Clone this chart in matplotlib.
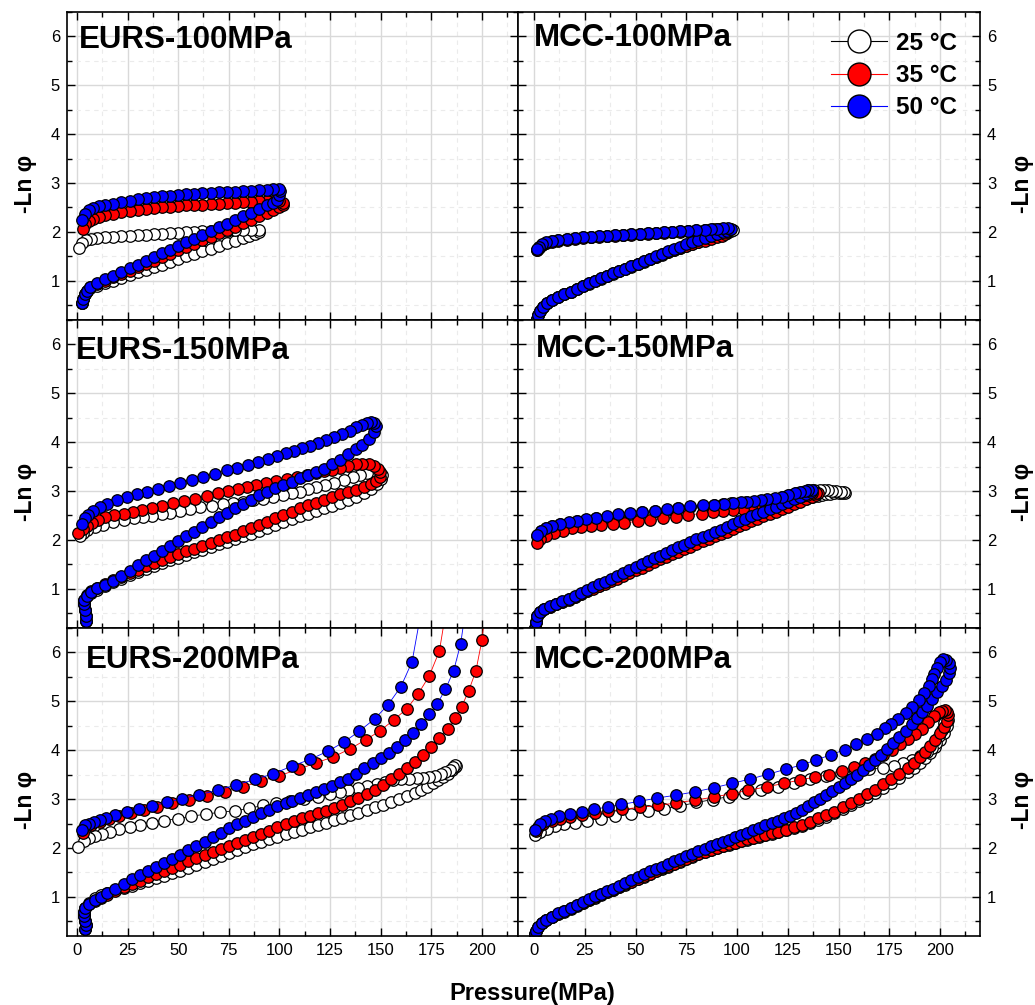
import numpy as np
import matplotlib.pyplot as plt
from matplotlib.ticker import MultipleLocator
from matplotlib.lines import Line2D

plt.rcParams['font.family'] = ['Liberation Sans', 'DejaVu Sans']

temps = ['25 °C', '35 °C', '50 °C']
face_colors = ['white', '#ff0000', '#0000ff']
line_colors = ['black', '#ff0000', '#0000ff']

# (pressure MPa, -ln phi), loading then unloading
eurs100_25 = [(2.5, 0.55), (3, 0.62), (4, 0.72), (5, 0.79), (6.5, 0.85), (10, 0.90), (14, 0.95), (18, 1.00),
              (22, 1.06), (26, 1.11), (30, 1.17), (34, 1.22), (38, 1.28), (42, 1.33), (46, 1.39), (50, 1.44),
              (54, 1.50), (58, 1.55), (62, 1.60), (66, 1.66), (70, 1.71), (74, 1.77), (78, 1.82), (82, 1.88),
              (85, 1.92), (88, 1.96), (90, 2.00),
              (90, 2.04), (86, 2.04), (82, 2.03), (78, 2.03), (74, 2.02), (70, 2.02), (66, 2.01), (62, 2.01),
              (58, 2.00), (54, 1.99), (50, 1.98), (46, 1.97), (42, 1.96), (38, 1.95), (34, 1.94), (30, 1.93),
              (26, 1.92), (22, 1.91), (18, 1.90), (14, 1.89), (10, 1.88), (7, 1.86), (4.5, 1.83), (2.5, 1.77),
              (1, 1.67)]
eurs100_35 = [(2.5, 0.55), (3, 0.62), (4, 0.72), (5, 0.80), (6.5, 0.87), (10, 0.93), (14, 1.00), (18, 1.07),
              (22, 1.14), (26, 1.21), (30, 1.28), (34, 1.34), (38, 1.41), (42, 1.48), (46, 1.55), (50, 1.62),
              (54, 1.69), (58, 1.76), (62, 1.83), (66, 1.90), (70, 1.97), (74, 2.04), (78, 2.11), (82, 2.18),
              (86, 2.25), (90, 2.32), (94, 2.39), (97, 2.45), (100, 2.50), (102, 2.55),
              (102, 2.60), (100, 2.63), (97, 2.64), (94, 2.64), (90, 2.63), (86, 2.62), (82, 2.61), (78, 2.60),
              (74, 2.59), (70, 2.58), (66, 2.57), (62, 2.56), (58, 2.55), (54, 2.54), (50, 2.53), (46, 2.51),
              (42, 2.50), (38, 2.48), (34, 2.46), (30, 2.44), (26, 2.42), (22, 2.40), (18, 2.37), (14, 2.34),
              (11, 2.31), (8, 2.27), (6, 2.23), (4, 2.16), (3, 2.05)]
eurs100_50 = [(2.5, 0.55), (3, 0.62), (4, 0.72), (5, 0.80), (6.5, 0.88), (10, 0.95), (14, 1.03), (18, 1.10),
              (22, 1.18), (26, 1.26), (30, 1.33), (34, 1.41), (38, 1.48), (42, 1.56), (46, 1.63), (50, 1.71),
              (54, 1.79), (58, 1.86), (62, 1.94), (66, 2.01), (70, 2.09), (74, 2.17), (78, 2.24), (82, 2.32),
              (86, 2.39), (90, 2.47), (94, 2.54), (97, 2.60), (99, 2.66), (100, 2.75), (100.5, 2.84),
              (100, 2.87), (97, 2.87), (94, 2.86), (90, 2.85), (86, 2.84), (82, 2.83), (78, 2.82), (74, 2.82),
              (70, 2.81), (66, 2.80), (62, 2.79), (58, 2.78), (54, 2.77), (50, 2.76), (46, 2.74), (42, 2.73),
              (38, 2.71), (34, 2.69), (30, 2.67), (26, 2.64), (22, 2.61), (18, 2.58), (14, 2.55), (11, 2.52),
              (8, 2.48), (6, 2.44), (4, 2.36), (2.5, 2.24)]

eurs150_25 = [(4.5, 0.35), (4.5, 0.45), (4, 0.56), (3.5, 0.68), (3.5, 0.76), (5, 0.85), (7, 0.92), (10, 0.98),
              (14, 1.06), (18, 1.14), (22, 1.21), (26, 1.29), (30, 1.35), (34, 1.41), (38, 1.47), (42, 1.53),
              (46, 1.58), (50, 1.64), (54, 1.69), (58, 1.75), (62, 1.80), (66, 1.85), (70, 1.91), (74, 1.96),
              (78, 2.02), (82, 2.07), (86, 2.13), (90, 2.19), (94, 2.24), (98, 2.30), (102, 2.36), (106, 2.42),
              (110, 2.48), (114, 2.54), (118, 2.59), (122, 2.65), (126, 2.70), (130, 2.76), (134, 2.81),
              (138, 2.87), (142, 2.95), (145, 3.04), (148, 3.14), (150, 3.24), (150.5, 3.32),
              (149, 3.37), (146, 3.38), (143, 3.36), (140, 3.33), (136.5, 3.29), (132, 3.23), (127, 3.17),
              (122.5, 3.13), (118, 3.09), (114, 3.04), (110, 2.99), (106, 2.96), (102, 2.92), (97, 2.88),
              (92, 2.84), (87, 2.81), (82, 2.78), (77, 2.76), (72, 2.74), (66.5, 2.70), (61, 2.67), (56, 2.63),
              (51, 2.60), (46, 2.56), (42, 2.52), (37, 2.49), (32.5, 2.47), (28, 2.44), (23, 2.41), (18, 2.36),
              (13, 2.31), (9, 2.27), (5, 2.20), (3, 2.14), (1.5, 2.07)]
eurs150_35 = [(4.5, 0.35), (4.5, 0.45), (4, 0.56), (3.5, 0.68), (3.5, 0.78), (5, 0.88), (7, 0.96), (10, 1.02),
              (14, 1.10), (18, 1.18), (22, 1.25), (26, 1.32), (30, 1.39), (34, 1.46), (38, 1.52), (42, 1.59),
              (46, 1.65), (50, 1.71), (54, 1.77), (58, 1.82), (62, 1.88), (66, 1.94), (70, 2.00), (74, 2.05),
              (78, 2.11), (82, 2.18), (86, 2.24), (90, 2.31), (94, 2.37), (98, 2.44), (102, 2.51), (106, 2.58),
              (110, 2.65), (114, 2.71), (118, 2.76), (122, 2.82), (126, 2.87), (130, 2.93), (134, 2.98),
              (138, 3.03), (142, 3.09), (145, 3.14), (147.5, 3.20), (149.5, 3.29), (149.5, 3.38),
              (148.5, 3.46), (146.5, 3.52), (144, 3.56), (141, 3.56), (138, 3.55), (134, 3.52), (130, 3.48),
              (126, 3.44), (122, 3.40), (118, 3.36), (113.5, 3.32), (108.5, 3.28), (103.5, 3.25), (98.5, 3.21),
              (93.5, 3.17), (88.5, 3.13), (84, 3.09), (79.5, 3.05), (74.5, 3.00), (69.5, 2.95), (64, 2.89),
              (58.5, 2.84), (53, 2.79), (47.5, 2.75), (42, 2.70), (37, 2.66), (32, 2.62), (27.5, 2.58),
              (23, 2.54), (18.5, 2.50), (14, 2.46), (10.5, 2.41), (7.5, 2.35), (5, 2.28), (3, 2.22), (0.7, 2.14)]
eurs150_50 = [(4.5, 0.35), (4.5, 0.45), (4, 0.56), (3.5, 0.68), (3.5, 0.78), (5, 0.86), (7, 0.94), (10, 1.01),
              (14, 1.07), (18, 1.16), (22, 1.27), (26, 1.37), (30, 1.48), (34, 1.58), (38, 1.67), (42, 1.77),
              (46, 1.87), (50, 1.98), (54, 2.08), (58, 2.17), (62, 2.27), (66, 2.37), (70, 2.46), (74, 2.55),
              (78, 2.65), (82, 2.74), (86, 2.82), (90, 2.91), (94, 2.99), (98, 3.06), (102, 3.13), (106, 3.19),
              (110, 3.26), (114, 3.32), (118, 3.39), (122, 3.46), (126, 3.55), (130, 3.64), (134, 3.75),
              (138, 3.86), (141, 3.95), (144, 4.07), (146.5, 4.20), (147.5, 4.32), (146.5, 4.40),
              (145, 4.42), (143, 4.39), (141, 4.36), (138, 4.30), (135, 4.23), (131, 4.17), (127, 4.11),
              (123, 4.05), (119, 3.99), (115, 3.93), (111, 3.88), (107, 3.82), (103, 3.77), (99, 3.72),
              (94.5, 3.66), (89.5, 3.60), (84.5, 3.54), (79, 3.48), (74, 3.42), (68, 3.35), (62.5, 3.29),
              (57, 3.23), (51, 3.16), (45.5, 3.10), (40, 3.04), (34.5, 2.98), (29.5, 2.93), (24.5, 2.87),
              (20, 2.81), (15, 2.74), (11.5, 2.67), (8, 2.59), (5.5, 2.51), (4, 2.44), (2.3, 2.32)]

eurs200_25 = [(4, 0.35), (4.5, 0.42), (4, 0.50), (3.5, 0.60), (3.5, 0.70), (4, 0.78), (6, 0.88), (9, 0.97),
              (12, 1.03), (15, 1.08), (19, 1.13), (23, 1.18), (27, 1.23), (31, 1.28), (35, 1.33), (39, 1.38),
              (43, 1.43), (47, 1.48), (51, 1.53), (55, 1.59), (59, 1.65), (63, 1.71), (67, 1.77), (71, 1.83),
              (75, 1.90), (79, 1.96), (83, 2.02), (87, 2.08), (91, 2.13), (95, 2.18), (99, 2.23), (103, 2.28),
              (107, 2.33), (111, 2.37), (115, 2.42), (119, 2.47), (123, 2.52), (127, 2.57), (131, 2.62),
              (135, 2.67), (139, 2.72), (143, 2.77), (147, 2.83), (151, 2.88), (155, 2.94), (159, 3.00),
              (163, 3.06), (167, 3.13), (170, 3.19), (173, 3.25), (176, 3.32), (178.5, 3.39), (181, 3.46),
              (183, 3.52), (185, 3.59), (186.5, 3.65), (187, 3.68),
              (186.5, 3.69), (185.5, 3.65), (184, 3.60), (182, 3.55), (180, 3.51), (177, 3.48), (174, 3.46),
              (171, 3.44), (168, 3.43), (164, 3.42), (160, 3.40), (156, 3.39), (152, 3.35), (148, 3.31),
              (143, 3.26), (139, 3.22), (134, 3.18), (130, 3.15), (125, 3.10), (119, 3.05), (112, 3.00),
              (105, 2.96), (98.5, 2.91), (92, 2.87), (85, 2.81), (78, 2.76), (70.5, 2.73), (63.5, 2.69),
              (56.5, 2.65), (50, 2.60), (43, 2.56), (37, 2.51), (31, 2.46), (26, 2.42), (21, 2.38), (16.5, 2.33),
              (12.5, 2.28), (9, 2.24), (6, 2.20), (3.5, 2.14), (0.5, 2.02)]
eurs200_35 = [(4, 0.35), (4.5, 0.42), (4, 0.50), (3.5, 0.60), (3.5, 0.70), (4, 0.78), (6, 0.85), (9, 0.92),
              (12, 0.98), (15, 1.04), (19, 1.12), (23, 1.20), (27, 1.26), (31, 1.33), (35, 1.40), (39, 1.46),
              (43, 1.53), (47, 1.60), (51, 1.66), (55, 1.73), (59, 1.79), (63, 1.86), (67, 1.92), (71, 1.98),
              (75, 2.05), (79, 2.11), (83, 2.17), (87, 2.23), (91, 2.29), (95, 2.35), (99, 2.42), (103, 2.49),
              (107, 2.55), (111, 2.61), (115, 2.66), (119, 2.71), (123, 2.76), (127, 2.82), (131, 2.88),
              (135, 2.95), (139, 3.02), (143, 3.10), (147, 3.18), (151, 3.29), (155, 3.40), (159, 3.51),
              (163, 3.64), (167, 3.75), (171, 3.90), (175, 4.06), (179, 4.24), (183, 4.43), (186.5, 4.65),
              (190, 4.89), (193.5, 5.22), (197, 5.62), (200, 6.25), (202, 7.00),
              (184, 7.30), (179, 6.03), (174, 5.52), (168.5, 5.15), (163, 4.85), (156.5, 4.62), (149.5, 4.39),
              (142.5, 4.21), (135, 4.03), (126.5, 3.86), (118, 3.74), (109.5, 3.61), (100, 3.48), (91, 3.37),
              (82, 3.25), (73, 3.15), (64, 3.07), (55.5, 2.99), (47, 2.91), (39.5, 2.84), (33, 2.77),
              (26.5, 2.72), (21, 2.66), (16, 2.60), (11.5, 2.53), (7, 2.47), (4, 2.40), (2.8, 2.30)]
eurs200_50 = [(4, 0.35), (4.5, 0.42), (4, 0.50), (3.5, 0.60), (3.5, 0.70), (4, 0.78), (6, 0.86), (9, 0.93),
              (12, 1.00), (15, 1.07), (19, 1.17), (23, 1.26), (27, 1.36), (31, 1.45), (35, 1.53), (39, 1.62),
              (43, 1.70), (47, 1.78), (51, 1.86), (55, 1.95), (59, 2.04), (63, 2.13), (67, 2.22), (71, 2.31),
              (75, 2.40), (79, 2.48), (83, 2.56), (87, 2.64), (91, 2.71), (95, 2.78), (99, 2.85), (103, 2.92),
              (106, 2.96), (110, 3.02), (114, 3.08), (118, 3.14), (122, 3.20), (126, 3.27), (130, 3.34),
              (134, 3.42), (138, 3.52), (142, 3.63), (146, 3.74), (150, 3.84), (154, 3.95), (158, 4.07),
              (162, 4.21), (166, 4.36), (170, 4.53), (174, 4.73), (178, 4.95), (182, 5.25), (186, 5.62),
              (189.5, 6.18), (192, 6.90),
              (172, 7.30), (165.5, 5.81), (160, 5.30), (153.5, 4.92), (147, 4.64), (139.5, 4.39), (132, 4.17),
              (124, 3.98), (115, 3.81), (106, 3.67), (97, 3.52), (88, 3.40), (78.5, 3.29), (69.5, 3.18),
              (60.5, 3.09), (52, 3.01), (44.5, 2.93), (37, 2.86), (30.5, 2.79), (24.5, 2.74), (19, 2.68),
              (14.5, 2.62), (11.5, 2.57), (8.5, 2.53), (6, 2.50), (4, 2.46), (2.5, 2.36)]

mcc100_25 = [(1.5, 0.22), (2, 0.30), (3, 0.38), (4.5, 0.46), (6.5, 0.54), (9, 0.60), (12, 0.66), (15, 0.72),
             (18, 0.78), (21, 0.84), (24, 0.89), (27, 0.94), (30, 0.99), (33, 1.04), (36, 1.09), (39, 1.14),
             (42, 1.19), (45, 1.24), (48, 1.29), (51, 1.34), (54, 1.39), (57, 1.44), (60, 1.49), (63, 1.53),
             (66, 1.58), (69, 1.62), (72, 1.67), (75, 1.71), (78, 1.75), (81, 1.79), (84, 1.83), (87, 1.87),
             (90, 1.91), (93, 1.95), (95, 1.98), (97, 2.01), (98, 2.03),
             (96.5, 2.05), (94, 2.06), (91, 2.06), (88, 2.05), (84, 2.04), (80, 2.03), (76, 2.02), (72, 2.01),
             (68, 2.00), (64, 1.99), (60, 1.98), (56, 1.97), (52, 1.96), (48, 1.95), (44, 1.94), (40, 1.93),
             (36, 1.92), (32, 1.91), (28, 1.90), (24, 1.89), (20, 1.87), (16, 1.85), (12, 1.83), (9, 1.81),
             (6, 1.78), (4, 1.74), (2.5, 1.69), (1.5, 1.63)]
mcc100_35 = [(1.5, 0.22), (2, 0.30), (3, 0.38), (4.5, 0.46), (6.5, 0.54), (9, 0.60), (12, 0.66), (15, 0.72),
             (18, 0.78), (21, 0.84), (24, 0.89), (27, 0.95), (30, 1.00), (33, 1.05), (36, 1.10), (39, 1.15),
             (42, 1.20), (45, 1.25), (48, 1.30), (51, 1.35), (54, 1.40), (57, 1.45), (60, 1.49), (63, 1.54),
             (66, 1.58), (69, 1.63), (72, 1.67), (75, 1.71), (78, 1.75), (81, 1.79), (84, 1.82), (87, 1.86),
             (90, 1.89), (92.5, 1.92), (94, 1.95), (95, 1.99),
             (95, 2.03), (93, 2.05), (90, 2.05), (87, 2.04), (84, 2.03), (80, 2.02), (76, 2.01), (72, 2.00),
             (68, 1.99), (64, 1.98), (60, 1.97), (56, 1.96), (52, 1.95), (48, 1.94), (44, 1.93), (40, 1.92),
             (36, 1.91), (32, 1.90), (28, 1.89), (24, 1.88), (20, 1.86), (16, 1.84), (12, 1.82), (9, 1.80),
             (6, 1.77), (4, 1.73), (2.5, 1.68), (1.5, 1.62)]
mcc100_50 = [(1.5, 0.22), (2, 0.30), (3, 0.38), (4.5, 0.46), (6.5, 0.54), (9, 0.60), (12, 0.66), (15, 0.72),
             (18, 0.78), (21, 0.84), (24, 0.89), (27, 0.95), (30, 1.00), (33, 1.05), (36, 1.10), (39, 1.15),
             (42, 1.20), (45, 1.25), (48, 1.30), (51, 1.35), (54, 1.40), (57, 1.45), (60, 1.50), (63, 1.55),
             (66, 1.60), (69, 1.65), (72, 1.70), (75, 1.75), (78, 1.80), (81, 1.84), (84, 1.88), (87, 1.92),
             (90, 1.96), (93, 1.99), (95, 2.02), (96.5, 2.05),
             (97, 2.06), (95.5, 2.07), (93, 2.07), (90, 2.06), (87, 2.05), (84, 2.04), (80, 2.03), (76, 2.02),
             (72, 2.01), (68, 2.00), (64, 1.99), (60, 1.98), (56, 1.97), (52, 1.96), (48, 1.95), (44, 1.94),
             (40, 1.93), (36, 1.92), (32, 1.91), (28, 1.90), (24, 1.89), (20, 1.88), (16, 1.86), (12, 1.84),
             (9, 1.82), (6, 1.79), (4, 1.75), (2.5, 1.70), (1.5, 1.64)]

mcc150_25 = [(0.5, 0.20), (1, 0.32), (1.5, 0.44), (3, 0.52), (5, 0.58), (8, 0.63), (11, 0.68), (14, 0.73),
             (17, 0.79), (20, 0.84), (23, 0.90), (26, 0.95), (29, 1.01), (32, 1.06), (35, 1.12), (38, 1.17),
             (41, 1.23), (44, 1.29), (47, 1.34), (50, 1.40), (53, 1.46), (56, 1.51), (59, 1.57), (62, 1.63),
             (65, 1.68), (68, 1.74), (71, 1.79), (74, 1.84), (77, 1.90), (80, 1.95), (83, 2.00), (86, 2.05),
             (89, 2.10), (92, 2.15), (95, 2.20), (98, 2.26), (101, 2.31), (104, 2.36), (107, 2.41), (110, 2.46),
             (113, 2.51), (116, 2.56), (119, 2.61), (122, 2.66), (125, 2.71), (128, 2.76), (131, 2.80),
             (134, 2.84), (137, 2.87), (140, 2.90), (142, 2.92), (144, 2.93), (146, 2.94), (148, 2.95),
             (150, 2.95), (151.5, 2.95), (153, 2.95),
             (152.5, 2.98), (151, 2.99), (149, 3.00), (147, 3.01), (145, 3.02), (143, 3.02), (141, 3.03),
             (138, 3.03), (135, 3.02),
             (132, 2.99), (129, 2.95), (125.5, 2.91), (122, 2.87), (118.5, 2.84), (115, 2.82), (111.5, 2.80),
             (108, 2.78), (104.5, 2.77), (101, 2.76), (97, 2.75), (93, 2.73), (88.5, 2.71), (83, 2.70),
             (77, 2.68), (71, 2.65), (65.5, 2.62), (59.5, 2.59), (53, 2.57), (47.5, 2.54), (41.5, 2.51),
             (36, 2.47), (30.5, 2.44), (25.5, 2.41), (21, 2.38), (17, 2.35), (13, 2.32), (9, 2.28), (6, 2.24),
             (3.5, 2.18), (1.5, 2.08)]
mcc150_35 = [(0.5, 0.20), (1, 0.32), (1.5, 0.44), (3, 0.52), (5, 0.58), (8, 0.63), (11, 0.68), (14, 0.73),
             (17, 0.78), (20, 0.84), (23, 0.89), (26, 0.95), (29, 1.00), (32, 1.05), (35, 1.10), (38, 1.16),
             (41, 1.21), (44, 1.27), (47, 1.32), (50, 1.38), (53, 1.43), (56, 1.49), (59, 1.54), (62, 1.60),
             (65, 1.65), (68, 1.71), (71, 1.76), (74, 1.81), (77, 1.86), (80, 1.92), (83, 1.97), (86, 2.02),
             (89, 2.07), (92, 2.12), (95, 2.17), (98, 2.22), (101, 2.28), (104, 2.33), (107, 2.38), (110, 2.43),
             (113, 2.48), (116, 2.53), (119, 2.58), (122, 2.63), (125, 2.68), (128, 2.73), (131, 2.78),
             (134, 2.83), (137, 2.88), (139, 2.92), (140, 2.95),
             (139, 2.96), (137, 2.95), (134.5, 2.92), (132, 2.89), (129, 2.85), (125.5, 2.81), (122, 2.78),
             (118.5, 2.75), (115, 2.72), (111, 2.69), (107, 2.67), (103, 2.64), (98, 2.62), (93, 2.59),
             (88, 2.57), (82.5, 2.54), (76, 2.51), (70, 2.47), (63.5, 2.44), (57, 2.41), (51, 2.38),
             (44.5, 2.35), (39, 2.33), (33, 2.31), (28, 2.29), (23, 2.27), (18.5, 2.24), (14.5, 2.19),
             (10, 2.14), (6, 2.08), (3, 2.01), (1.3, 1.93)]
mcc150_50 = [(0.5, 0.20), (1, 0.32), (1.5, 0.44), (3, 0.52), (5, 0.58), (8, 0.64), (11, 0.69), (14, 0.75),
             (17, 0.80), (20, 0.86), (23, 0.92), (26, 0.98), (29, 1.03), (32, 1.09), (35, 1.14), (38, 1.20),
             (41, 1.26), (44, 1.32), (47, 1.38), (50, 1.44), (53, 1.50), (56, 1.56), (59, 1.62), (62, 1.68),
             (65, 1.73), (68, 1.79), (71, 1.85), (74, 1.90), (77, 1.95), (80, 2.01), (83, 2.06), (86, 2.11),
             (89, 2.16), (92, 2.21), (95, 2.27), (98, 2.32), (101, 2.38), (104, 2.43), (107, 2.48), (110, 2.53),
             (113, 2.58), (116, 2.63), (119, 2.68), (122, 2.73), (125, 2.78), (128, 2.83), (131, 2.88),
             (134, 2.93), (136.5, 2.98), (137, 3.02),
             (135, 3.03), (133.5, 3.01), (131, 2.98), (128.5, 2.95), (125, 2.91), (122, 2.88), (118.5, 2.85),
             (115, 2.83), (112, 2.82), (108.5, 2.80), (105, 2.78), (102, 2.77), (98, 2.76), (93.5, 2.74),
             (88.5, 2.72), (83, 2.71), (77, 2.69), (71, 2.66), (65.5, 2.63), (59.5, 2.60), (53, 2.58),
             (47.5, 2.55), (41.5, 2.52), (36, 2.48), (30.5, 2.45), (25.5, 2.42), (21, 2.39), (17, 2.36),
             (13, 2.33), (9, 2.29), (6, 2.25), (3.5, 2.19), (1.5, 2.10)]

mcc200_25 = [(0.5, 0.25), (1, 0.30), (2, 0.38), (4, 0.46), (6, 0.52), (9, 0.58), (12, 0.64), (15, 0.70),
             (18, 0.76), (21, 0.82), (24, 0.87), (27, 0.93), (30, 0.98), (33, 1.04), (36, 1.09), (39, 1.14),
             (42, 1.20), (45, 1.25), (48, 1.30), (51, 1.36), (54, 1.41), (57, 1.46), (60, 1.52), (63, 1.57),
             (66, 1.62), (69, 1.67), (72, 1.72), (75, 1.77), (78, 1.82), (81, 1.87), (84, 1.91), (87, 1.95),
             (90, 1.99), (93, 2.03), (96, 2.07), (99, 2.10), (102, 2.14), (105, 2.17), (108, 2.20), (111, 2.23),
             (114, 2.26), (117, 2.29), (120, 2.32), (124, 2.36), (128, 2.40), (132, 2.45), (136, 2.51),
             (140, 2.58), (144, 2.64), (148, 2.71), (152, 2.79), (156, 2.87), (160, 2.95), (164, 3.05),
             (168, 3.13), (172, 3.23), (176, 3.33), (180, 3.44), (184, 3.55), (187, 3.64), (190, 3.74),
             (192.5, 3.84), (195, 3.94), (197.5, 4.06), (200, 4.20), (202, 4.35), (203.5, 4.50), (204, 4.62),
             (203, 4.68),
             (202, 4.55), (201, 4.42), (199.5, 4.28), (198, 4.15), (196, 4.04), (193.5, 3.96), (190, 3.88),
             (186, 3.80), (182, 3.74), (177.5, 3.68), (172, 3.64), (165, 3.61), (158, 3.57), (151, 3.53),
             (144, 3.47), (136, 3.40), (128, 3.33), (120, 3.25), (112, 3.18), (104, 3.12), (96, 3.05),
             (88, 2.99), (80, 2.93), (72, 2.86), (64, 2.80), (56, 2.75), (48, 2.70), (40, 2.65), (33, 2.60),
             (26, 2.56), (20, 2.52), (15, 2.48), (10.5, 2.44), (6.5, 2.39), (3, 2.33), (0.5, 2.27)]
mcc200_35 = [(0.5, 0.25), (1, 0.30), (2, 0.38), (4, 0.46), (6, 0.52), (9, 0.58), (12, 0.65), (15, 0.71),
             (18, 0.77), (21, 0.83), (24, 0.88), (27, 0.94), (30, 0.99), (33, 1.05), (36, 1.10), (39, 1.15),
             (42, 1.21), (45, 1.26), (48, 1.31), (51, 1.37), (54, 1.42), (57, 1.47), (60, 1.53), (63, 1.58),
             (66, 1.63), (69, 1.68), (72, 1.73), (75, 1.78), (78, 1.83), (81, 1.88), (84, 1.92), (87, 1.96),
             (90, 2.00), (93, 2.04), (96, 2.08), (99, 2.11), (102, 2.15), (105, 2.18), (108, 2.21), (111, 2.24),
             (114, 2.27), (117, 2.30), (120, 2.33), (124, 2.37), (128, 2.42), (132, 2.47), (136, 2.54),
             (140, 2.61), (144, 2.67), (148, 2.74), (152, 2.83), (156, 2.91), (160, 3.00), (164, 3.11),
             (168, 3.19), (172, 3.30), (176, 3.40), (180, 3.52), (184, 3.63), (187, 3.73), (190, 3.85),
             (192.5, 3.96), (195, 4.08), (197.5, 4.20), (200, 4.35), (202, 4.48), (203.5, 4.60), (204, 4.71),
             (203.5, 4.78),
             (202.5, 4.82), (201, 4.81), (199.7, 4.78), (197.2, 4.69), (194.2, 4.57), (191, 4.44), (187.7, 4.33),
             (184.4, 4.23), (180.3, 4.12), (176.2, 4.01), (172.1, 3.91), (168, 3.82), (163, 3.73), (157.6, 3.65),
             (151.6, 3.57), (145.5, 3.50), (138.4, 3.45), (131, 3.39), (123, 3.32), (114.6, 3.25), (105.6, 3.18),
             (97.4, 3.11), (88.5, 3.04), (79.5, 2.98), (70, 2.92), (61, 2.87), (52, 2.83), (43.5, 2.79),
             (36.3, 2.75), (30, 2.72), (23.5, 2.68), (17.7, 2.64), (12.8, 2.60), (8.7, 2.56), (4.6, 2.49),
             (2, 2.42), (0.8, 2.35)]
mcc200_50 = [(0.5, 0.25), (1, 0.30), (2, 0.38), (4, 0.46), (6, 0.52), (9, 0.59), (12, 0.66), (15, 0.72),
             (18, 0.78), (21, 0.84), (24, 0.90), (27, 0.95), (30, 1.01), (33, 1.06), (36, 1.12), (39, 1.17),
             (42, 1.23), (45, 1.28), (48, 1.34), (51, 1.40), (54, 1.46), (57, 1.52), (60, 1.57), (63, 1.62),
             (66, 1.68), (69, 1.73), (72, 1.78), (75, 1.83), (78, 1.88), (81, 1.93), (84, 1.98), (87, 2.03),
             (90, 2.08), (93, 2.12), (96, 2.17), (99, 2.22), (102, 2.27), (105, 2.31), (108, 2.36), (111, 2.41),
             (114, 2.46), (117, 2.51), (120, 2.56), (123, 2.61), (126, 2.65), (129, 2.71), (132, 2.78),
             (135, 2.85), (138, 2.93), (141, 3.01), (144, 3.09), (147, 3.17), (150, 3.25), (153, 3.33),
             (156, 3.41), (159, 3.49), (162, 3.59), (165, 3.69), (168, 3.79), (171, 3.90), (174, 4.03),
             (177, 4.15), (180, 4.27), (183, 4.40), (186, 4.53), (188.5, 4.65), (191, 4.78), (193.5, 4.91),
             (196, 5.05), (198.5, 5.18), (201, 5.31), (203, 5.44), (204.5, 5.58), (205, 5.69), (204.5, 5.78),
             (203, 5.84), (201.5, 5.86), (200, 5.80), (198.5, 5.68), (197, 5.55), (196, 5.46), (194.5, 5.32),
             (192, 5.17), (189.5, 5.02), (186, 4.88), (183, 4.77), (179.5, 4.64), (176, 4.54), (173, 4.45),
             (169, 4.34), (164, 4.23), (158.5, 4.13), (153, 4.01), (146.5, 3.91), (139, 3.80), (132, 3.70),
             (124, 3.61), (115.5, 3.51), (106.5, 3.41), (97.5, 3.32), (88.5, 3.23), (79.5, 3.15), (70, 3.08),
             (60.5, 3.02), (51.5, 2.95), (43, 2.89), (36.5, 2.84), (29.5, 2.79), (23.5, 2.74), (17.5, 2.69),
             (12.5, 2.65), (8.5, 2.60), (5.5, 2.55), (3, 2.48), (0.5, 2.37)]

panel_names = ['EURS-100MPa', 'MCC-100MPa', 'EURS-150MPa', 'MCC-150MPa', 'EURS-200MPa', 'MCC-200MPa']
panel_curves = [
    [eurs100_25, eurs100_35, eurs100_50],
    [mcc100_25, mcc100_35, mcc100_50],
    [eurs150_25, eurs150_35, eurs150_50],
    [mcc150_25, mcc150_35, mcc150_50],
    [eurs200_25, eurs200_35, eurs200_50],
    [mcc200_25, mcc200_35, mcc200_50],
]
name_pos = [(0.027, 0.883), (0.035, 0.89), (0.02, 0.873), (0.038, 0.88), (0.042, 0.87), (0.035, 0.87)]

fig = plt.figure(figsize=(10.35, 10.05), dpi=100)

col_left = [67 / 1035, 518 / 1035]
col_width = [451 / 1035, 462 / 1035]
row_bottom = [0.6817, 0.3752, 0.0687]
row_h = 0.3065
xlims = [(-4.9, 217.8), (-7.9, 219.7)]

for i, curves in enumerate(panel_curves):
    row, col = divmod(i, 2)
    ax = fig.add_axes([col_left[col], row_bottom[row], col_width[col], row_h])
    for curve, fc, lc in zip(curves, face_colors, line_colors):
        p, v = np.array(curve).T
        ax.plot(p, v, '-', color=lc, lw=0.6, marker='o', ms=8.3,
                mfc=fc, mec='black', mew=0.9)

    ax.set_xlim(*xlims[col])
    ax.set_ylim(0.2, 6.5)
    ax.xaxis.set_major_locator(MultipleLocator(25))
    ax.xaxis.set_minor_locator(MultipleLocator(12.5))
    ax.yaxis.set_major_locator(MultipleLocator(1))
    ax.yaxis.set_minor_locator(MultipleLocator(0.5))
    ax.tick_params(which='both', direction='in', top=True, right=True, width=1,
                   labelsize=12, pad=5,
                   labelbottom=(row == 2), labelleft=(col == 0), labelright=(col == 1))
    ax.tick_params(which='major', length=6)
    ax.tick_params(which='minor', length=3.5)
    ax.grid(which='major', color='#d9d9d9', lw=1)
    ax.grid(which='minor', color='#ebebeb', lw=0.8, ls=(0, (4, 4)))
    ax.set_axisbelow(True)
    for s in ax.spines.values():
        s.set_linewidth(1.2)

    ax.text(name_pos[i][0], name_pos[i][1], panel_names[i], transform=ax.transAxes,
            ha='left', va='baseline', fontsize=22.5, fontweight='bold')
    ax.text(-0.093 if col == 0 else 1.091, 0.44, '-Ln φ', transform=ax.transAxes,
            rotation=90, ha='center', va='center', fontsize=16.5, fontweight='bold')

    if i == 1:
        handles = [Line2D([0], [0], color=lc, lw=0.8, marker='o', ms=16.5,
                          mfc=fc, mec='black', mew=1)
                   for fc, lc in zip(face_colors, line_colors)]
        ax.legend(handles, temps, loc='upper left', bbox_to_anchor=(0.677, 0.935),
                  frameon=False, prop={'weight': 'bold', 'size': 17.5},
                  handlelength=2.3, handletextpad=0.4, labelspacing=0.38,
                  borderpad=0, borderaxespad=0)

fig.text(0.514, 0.005, 'Pressure(MPa)', ha='center', va='baseline',
         fontsize=17, fontweight='bold')

fig.savefig('out.png', dpi=100)
